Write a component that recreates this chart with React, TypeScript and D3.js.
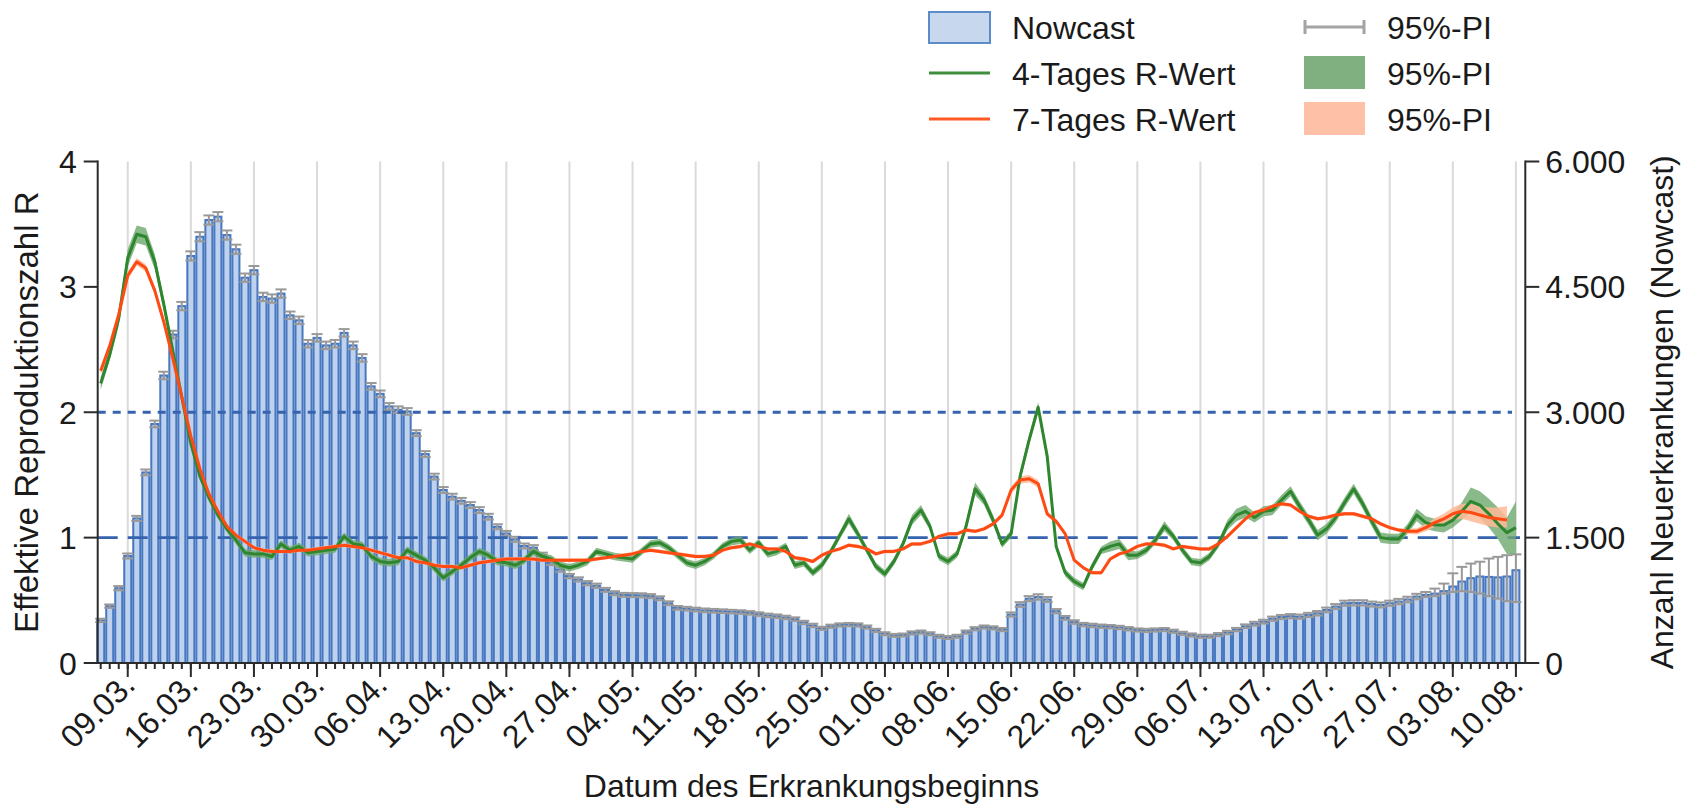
import React, { useEffect, useRef } from "react";
import * as d3 from "d3";

// first day shown (one bar per day)
const startDay = "2020-03-06";

// Nowcast: daily new cases with 95% prediction interval
const nowcast = [
  510, 680, 895, 1280, 1730, 2280, 2860, 3440, 3930, 4270,
  4870, 5100, 5300, 5340, 5120, 4950, 4610, 4700, 4380, 4360,
  4420, 4160, 4100, 3820, 3890, 3800, 3820, 3950, 3800, 3650,
  3310, 3220, 3070, 3030, 3010, 2750, 2500, 2230, 2070, 1990,
  1940, 1890, 1830, 1750, 1630, 1550, 1480, 1400, 1380, 1290,
  1200, 1120, 1040, 1000, 955, 925, 875, 835, 815, 812,
  810, 800, 775, 715, 660, 650, 640, 630, 625, 620,
  615, 610, 600, 585, 570, 560, 545, 525, 485, 450,
  415, 440, 455, 460, 455, 430, 390, 350, 330, 335,
  360, 370, 350, 320, 305, 320, 370, 410, 430, 420,
  400, 580, 700, 770, 790, 760, 620, 540, 490, 460,
  450, 440, 435, 425, 410, 395, 390, 395, 400, 380,
  355, 335, 320, 320, 340, 365, 400, 440, 470, 495,
  530, 550, 560, 555, 575, 595, 635, 675, 715, 720,
  720, 705, 695, 715, 735, 760, 795, 815, 830, 860,
  915, 975, 1015, 1035, 1030, 1025, 1035, 1110,
];
const nowcastLo = [
  490, 660, 870, 1250, 1700, 2245, 2820, 3395, 3885, 4220,
  4815, 5045, 5245, 5285, 5065, 4895, 4560, 4650, 4330, 4310,
  4370, 4115, 4055, 3775, 3845, 3755, 3775, 3905, 3755, 3605,
  3270, 3180, 3030, 2990, 2970, 2715, 2465, 2195, 2035, 1955,
  1905, 1855, 1795, 1715, 1600, 1520, 1450, 1370, 1350, 1260,
  1172, 1092, 1014, 975, 930, 900, 851, 811, 791, 788,
  786, 776, 752, 692, 638, 628, 618, 608, 603, 598,
  594, 589, 579, 564, 549, 539, 524, 504, 465, 430,
  396, 421, 436, 441, 436, 411, 371, 332, 312, 317,
  341, 351, 332, 302, 287, 302, 351, 391, 411, 401,
  381, 555, 672, 740, 758, 730, 595, 517, 469, 440,
  430, 420, 415, 405, 390, 376, 371, 376, 381, 361,
  336, 316, 302, 302, 321, 345, 380, 418, 447, 472,
  505, 525, 535, 530, 550, 568, 607, 645, 684, 689,
  689, 675, 665, 684, 703, 727, 762, 790, 800, 830,
  850, 860, 850, 830, 800, 770, 740, 730,
];
const nowcastHi = [
  530, 700, 920, 1310, 1760, 2315, 2900, 3485, 3975, 4320,
  4925, 5155, 5355, 5395, 5175, 5005, 4660, 4750, 4430, 4410,
  4470, 4205, 4145, 3865, 3935, 3845, 3865, 3995, 3845, 3695,
  3350, 3260, 3110, 3070, 3050, 2785, 2535, 2265, 2105, 2025,
  1975, 1925, 1865, 1785, 1660, 1580, 1510, 1430, 1410, 1320,
  1228, 1148, 1066, 1025, 980, 950, 899, 859, 839, 836,
  834, 824, 798, 738, 682, 672, 662, 652, 647, 642,
  636, 631, 621, 606, 591, 581, 566, 546, 505, 470,
  434, 459, 474, 479, 474, 449, 409, 368, 348, 353,
  379, 389, 368, 338, 323, 338, 389, 429, 449, 439,
  419, 605, 728, 800, 822, 790, 645, 563, 511, 480,
  470, 460, 455, 445, 430, 414, 409, 414, 419, 399,
  374, 354, 338, 338, 359, 385, 420, 462, 493, 518,
  555, 575, 585, 580, 600, 622, 663, 705, 746, 751,
  751, 735, 725, 746, 767, 793, 828, 850, 890, 950,
  1073, 1150, 1190, 1212, 1250, 1270, 1290, 1300,
];

// 4-Tages R-Wert with 95%-PI
const r4 = [
  2.23, 2.46, 2.75, 3.23, 3.42, 3.40, 3.20, 2.86, 2.49, 2.12,
  1.75, 1.49, 1.32, 1.18, 1.07, 0.98, 0.88, 0.87, 0.87, 0.85,
  0.95, 0.90, 0.93, 0.88, 0.89, 0.90, 0.91, 1.01, 0.95, 0.94,
  0.85, 0.81, 0.80, 0.81, 0.90, 0.86, 0.82, 0.76, 0.68, 0.73,
  0.78, 0.84, 0.89, 0.86, 0.81, 0.80, 0.78, 0.82, 0.89, 0.85,
  0.83, 0.78, 0.76, 0.78, 0.81, 0.89, 0.87, 0.85, 0.84, 0.83,
  0.89, 0.95, 0.96, 0.92, 0.86, 0.80, 0.78, 0.81, 0.86, 0.93,
  0.97, 0.98, 0.90, 0.96, 0.87, 0.89, 0.93, 0.78, 0.80, 0.72,
  0.78, 0.89, 1.02, 1.15, 1.03, 0.90, 0.77, 0.71, 0.81, 0.95,
  1.14, 1.22, 1.09, 0.85, 0.81, 0.87, 1.09, 1.39, 1.30, 1.14,
  0.95, 1.03, 1.49, 1.78, 2.04, 1.65, 0.93, 0.72, 0.65, 0.61,
  0.77, 0.90, 0.93, 0.95, 0.86, 0.86, 0.90, 0.98, 1.09, 1.01,
  0.90, 0.81, 0.80, 0.85, 0.95, 1.10, 1.18, 1.21, 1.16, 1.21,
  1.22, 1.30, 1.37, 1.25, 1.14, 1.02, 1.07, 1.16, 1.28, 1.39,
  1.27, 1.13, 1.00, 0.99, 0.99, 1.07, 1.18, 1.12, 1.10, 1.10,
  1.14, 1.21, 1.29, 1.26, 1.19, 1.11, 1.04, 1.08,
];
const r4Lo = [
  2.18, 2.41, 2.69, 3.16, 3.35, 3.33, 3.14, 2.81, 2.45, 2.09,
  1.72, 1.46, 1.29, 1.15, 1.04, 0.95, 0.85, 0.84, 0.84, 0.82,
  0.92, 0.87, 0.90, 0.85, 0.86, 0.87, 0.88, 0.98, 0.92, 0.91,
  0.82, 0.78, 0.77, 0.78, 0.87, 0.83, 0.79, 0.73, 0.65, 0.70,
  0.75, 0.81, 0.86, 0.83, 0.78, 0.77, 0.75, 0.79, 0.86, 0.82,
  0.80, 0.75, 0.73, 0.75, 0.78, 0.86, 0.84, 0.82, 0.81, 0.80,
  0.86, 0.92, 0.93, 0.89, 0.83, 0.77, 0.75, 0.78, 0.83, 0.90,
  0.94, 0.95, 0.87, 0.93, 0.84, 0.86, 0.90, 0.75, 0.77, 0.69,
  0.75, 0.86, 0.99, 1.11, 1.00, 0.87, 0.74, 0.68, 0.78, 0.92,
  1.10, 1.18, 1.06, 0.82, 0.78, 0.84, 1.05, 1.34, 1.26, 1.10,
  0.92, 1.00, 1.45, 1.74, 2.00, 1.61, 0.90, 0.69, 0.62, 0.58,
  0.74, 0.87, 0.89, 0.91, 0.82, 0.83, 0.87, 0.95, 1.05, 0.98,
  0.87, 0.78, 0.77, 0.82, 0.92, 1.06, 1.13, 1.16, 1.12, 1.17,
  1.18, 1.26, 1.33, 1.21, 1.10, 0.98, 1.03, 1.12, 1.24, 1.35,
  1.23, 1.09, 0.96, 0.95, 0.95, 1.03, 1.13, 1.07, 1.05, 1.04,
  1.08, 1.14, 1.20, 1.16, 1.08, 0.99, 0.87, 0.87,
];
const r4Hi = [
  2.28, 2.51, 2.81, 3.30, 3.49, 3.47, 3.26, 2.91, 2.53, 2.15,
  1.78, 1.52, 1.35, 1.21, 1.10, 1.01, 0.91, 0.90, 0.90, 0.88,
  0.98, 0.93, 0.96, 0.91, 0.92, 0.93, 0.94, 1.04, 0.98, 0.97,
  0.88, 0.84, 0.83, 0.84, 0.93, 0.89, 0.85, 0.79, 0.71, 0.76,
  0.81, 0.87, 0.92, 0.89, 0.84, 0.83, 0.81, 0.85, 0.92, 0.88,
  0.86, 0.81, 0.79, 0.81, 0.84, 0.92, 0.90, 0.88, 0.87, 0.86,
  0.92, 0.98, 0.99, 0.95, 0.89, 0.83, 0.81, 0.84, 0.89, 0.96,
  1.00, 1.01, 0.93, 0.99, 0.90, 0.92, 0.96, 0.81, 0.83, 0.75,
  0.81, 0.92, 1.05, 1.19, 1.06, 0.93, 0.80, 0.74, 0.84, 0.98,
  1.18, 1.26, 1.12, 0.88, 0.84, 0.90, 1.13, 1.44, 1.34, 1.18,
  0.98, 1.06, 1.53, 1.82, 2.08, 1.69, 0.96, 0.75, 0.68, 0.64,
  0.80, 0.93, 0.97, 0.99, 0.90, 0.89, 0.93, 1.01, 1.13, 1.04,
  0.93, 0.84, 0.83, 0.88, 0.98, 1.14, 1.23, 1.26, 1.20, 1.25,
  1.26, 1.34, 1.41, 1.29, 1.18, 1.06, 1.11, 1.20, 1.32, 1.43,
  1.31, 1.17, 1.04, 1.03, 1.03, 1.11, 1.23, 1.17, 1.15, 1.16,
  1.20, 1.28, 1.40, 1.37, 1.31, 1.24, 1.16, 1.29,
];

// 7-Tages R-Wert with 95%-PI (one day shorter)
const r7 = [
  2.33, 2.53, 2.78, 3.09, 3.20, 3.15, 2.97, 2.72, 2.43, 2.12,
  1.81, 1.55, 1.35, 1.21, 1.09, 1.02, 0.97, 0.92, 0.90, 0.89,
  0.89, 0.89, 0.90, 0.90, 0.91, 0.92, 0.93, 0.94, 0.93, 0.92,
  0.90, 0.88, 0.86, 0.84, 0.84, 0.81, 0.80, 0.78, 0.77, 0.77,
  0.76, 0.78, 0.80, 0.81, 0.82, 0.83, 0.83, 0.83, 0.83, 0.82,
  0.82, 0.82, 0.82, 0.82, 0.82, 0.83, 0.84, 0.85, 0.86, 0.87,
  0.89, 0.90, 0.89, 0.88, 0.87, 0.86, 0.85, 0.85, 0.86, 0.90,
  0.92, 0.93, 0.95, 0.93, 0.91, 0.91, 0.89, 0.84, 0.83, 0.81,
  0.86, 0.89, 0.91, 0.94, 0.93, 0.91, 0.87, 0.89, 0.89, 0.91,
  0.95, 0.95, 0.97, 1.01, 1.03, 1.03, 1.06, 1.05, 1.07, 1.11,
  1.18, 1.38, 1.46, 1.47, 1.43, 1.19, 1.13, 1.03, 0.82, 0.76,
  0.72, 0.72, 0.83, 0.87, 0.89, 0.93, 0.95, 0.95, 0.94, 0.91,
  0.93, 0.92, 0.91, 0.91, 0.95, 1.01, 1.08, 1.15, 1.20, 1.22,
  1.25, 1.27, 1.26, 1.21, 1.17, 1.15, 1.16, 1.18, 1.19, 1.19,
  1.17, 1.15, 1.11, 1.08, 1.06, 1.05, 1.05, 1.08, 1.12, 1.15,
  1.19, 1.21, 1.20, 1.18, 1.16, 1.15, 1.14,
];
const r7Lo = [
  2.30, 2.50, 2.75, 3.06, 3.17, 3.12, 2.94, 2.69, 2.40, 2.10,
  1.79, 1.53, 1.33, 1.19, 1.075, 1.005, 0.955, 0.905, 0.885, 0.875,
  0.875, 0.875, 0.885, 0.885, 0.895, 0.905, 0.915, 0.925, 0.915, 0.905,
  0.885, 0.865, 0.845, 0.825, 0.825, 0.795, 0.785, 0.765, 0.755, 0.755,
  0.745, 0.765, 0.785, 0.795, 0.805, 0.815, 0.815, 0.815, 0.815, 0.805,
  0.805, 0.805, 0.805, 0.805, 0.805, 0.815, 0.825, 0.835, 0.845, 0.855,
  0.875, 0.885, 0.875, 0.865, 0.855, 0.845, 0.835, 0.835, 0.845, 0.885,
  0.905, 0.915, 0.935, 0.915, 0.895, 0.895, 0.875, 0.825, 0.815, 0.795,
  0.845, 0.875, 0.895, 0.925, 0.915, 0.895, 0.855, 0.875, 0.875, 0.895,
  0.935, 0.935, 0.955, 0.995, 1.015, 1.015, 1.045, 1.035, 1.055, 1.095,
  1.16, 1.35, 1.43, 1.44, 1.40, 1.17, 1.11, 1.015, 0.805, 0.745,
  0.705, 0.705, 0.815, 0.855, 0.875, 0.915, 0.935, 0.935, 0.925, 0.895,
  0.915, 0.905, 0.895, 0.895, 0.935, 0.995, 1.065, 1.135, 1.185, 1.205,
  1.235, 1.255, 1.245, 1.195, 1.155, 1.135, 1.145, 1.165, 1.175, 1.175,
  1.155, 1.135, 1.095, 1.065, 1.045, 1.03, 1.025, 1.05, 1.085, 1.11,
  1.14, 1.15, 1.13, 1.11, 1.09, 1.08, 1.08,
];
const r7Hi = [
  2.36, 2.56, 2.81, 3.12, 3.23, 3.18, 3.00, 2.75, 2.46, 2.14,
  1.83, 1.57, 1.37, 1.23, 1.105, 1.035, 0.985, 0.935, 0.915, 0.905,
  0.905, 0.905, 0.915, 0.915, 0.925, 0.935, 0.945, 0.955, 0.945, 0.935,
  0.915, 0.895, 0.875, 0.855, 0.855, 0.825, 0.815, 0.795, 0.785, 0.785,
  0.775, 0.795, 0.815, 0.825, 0.835, 0.845, 0.845, 0.845, 0.845, 0.835,
  0.835, 0.835, 0.835, 0.835, 0.835, 0.845, 0.855, 0.865, 0.875, 0.885,
  0.905, 0.915, 0.905, 0.895, 0.885, 0.875, 0.865, 0.865, 0.875, 0.915,
  0.935, 0.945, 0.965, 0.945, 0.925, 0.925, 0.905, 0.855, 0.845, 0.825,
  0.875, 0.905, 0.925, 0.955, 0.945, 0.925, 0.885, 0.905, 0.905, 0.925,
  0.965, 0.965, 0.985, 1.025, 1.045, 1.045, 1.075, 1.065, 1.085, 1.125,
  1.20, 1.41, 1.49, 1.50, 1.46, 1.21, 1.15, 1.045, 0.835, 0.775,
  0.735, 0.735, 0.845, 0.885, 0.905, 0.945, 0.965, 0.965, 0.955, 0.925,
  0.945, 0.935, 0.925, 0.925, 0.965, 1.025, 1.095, 1.165, 1.215, 1.235,
  1.265, 1.285, 1.275, 1.225, 1.185, 1.165, 1.175, 1.195, 1.205, 1.205,
  1.185, 1.165, 1.125, 1.095, 1.075, 1.07, 1.075, 1.11, 1.155, 1.19,
  1.24, 1.27, 1.27, 1.25, 1.24, 1.24, 1.25,
];

const rTicks = [0, 1, 2, 3, 4];
const caseTicks = [0, 1500, 3000, 4500, 6000];
const legendLeft = ["Nowcast", "4-Tages R-Wert", "7-Tages R-Wert"];
const piLabel = "95%-PI";

const FONT = "'Liberation Sans', Arial, Helvetica, sans-serif";
const FS = 32;

const App: React.FC = () => {
  const svgRef = useRef<SVGSVGElement>(null);
  const width = 1690;
  const height = 808;

  useEffect(() => {
    if (!svgRef.current) return;
    const svg = d3.select(svgRef.current);
    svg.selectAll("*").remove();

    const start = d3.utcParse("%Y-%m-%d")(startDay) as Date;
    const days = nowcast.map((_, i) => d3.utcDay.offset(start, i));
    const last = days[days.length - 1];

    const left = 97.7;
    const right = 1525.3;
    const bottom = 663;
    const top = 161.5;

    const x = d3
      .scaleUtc()
      .domain([d3.utcHour.offset(start, -8), d3.utcHour.offset(last, 25)])
      .range([left, right]);
    const yR = d3.scaleLinear().domain([0, 4]).range([bottom, top]);
    const yN = d3.scaleLinear().domain([0, 6000]).range([bottom, top]);
    const dayW = x(d3.utcDay.offset(start, 1)) - x(start);

    const de = d3.formatLocale({
      decimal: ",",
      thousands: ".",
      grouping: [3],
      currency: ["", " €"],
    });
    const fmtCases = de.format(",d");
    const fmtDate = d3.utcFormat("%d.%m.");

    const weeks = d3.utcMonday.range(start, d3.utcDay.offset(last, 1));

    // vertical week gridlines
    svg
      .append("g")
      .selectAll("line")
      .data(weeks)
      .join("line")
      .attr("x1", (d) => x(d))
      .attr("x2", (d) => x(d))
      .attr("y1", top)
      .attr("y2", bottom)
      .attr("stroke", "#dadada")
      .attr("stroke-width", 2);

    // nowcast bars
    svg
      .append("g")
      .selectAll("rect")
      .data(nowcast)
      .join("rect")
      .attr("x", (d, i) => x(days[i]) - dayW / 2 + 1)
      .attr("y", (d) => yN(d))
      .attr("width", dayW - 2)
      .attr("height", (d) => bottom - yN(d))
      .attr("fill", "#bed2ee")
      .attr("stroke", "#4677c0")
      .attr("stroke-width", 2);

    // nowcast prediction intervals
    const eb = svg.append("g").attr("stroke", "#999999").attr("stroke-width", 2);
    nowcast.forEach((d, i) => {
      const cx = x(days[i]);
      const lo = yN(nowcastLo[i]);
      const hi = yN(nowcastHi[i]);
      eb.append("line").attr("x1", cx).attr("x2", cx).attr("y1", lo).attr("y2", hi);
      eb.append("line").attr("x1", cx - 5.5).attr("x2", cx + 5.5).attr("y1", lo).attr("y2", lo);
      eb.append("line").attr("x1", cx - 5.5).attr("x2", cx + 5.5).attr("y1", hi).attr("y2", hi);
    });

    // reference lines R = 1 and R = 2
    svg
      .append("line")
      .attr("x1", left)
      .attr("x2", 1512)
      .attr("y1", yR(2))
      .attr("y2", yR(2))
      .attr("stroke", "#3563ae")
      .attr("stroke-width", 2.8)
      .attr("stroke-dasharray", "8,7");
    svg
      .append("line")
      .attr("x1", left)
      .attr("x2", 1520)
      .attr("y1", yR(1))
      .attr("y2", yR(1))
      .attr("stroke", "#3563ae")
      .attr("stroke-width", 2.8)
      .attr("stroke-dasharray", "20,10");

    // R bands and lines
    const band = (lo: number[], hi: number[]) =>
      d3
        .area<number>()
        .x((_, i) => x(days[i]))
        .y0((_, i) => yR(lo[i]))
        .y1((_, i) => yR(hi[i]))
        .curve(d3.curveLinear)(lo);
    const line = (vals: number[]) =>
      d3
        .line<number>()
        .x((_, i) => x(days[i]))
        .y((d) => yR(d))(vals);

    svg.append("path").attr("d", band(r4Lo, r4Hi)).attr("fill", "#6da86d").attr("opacity", 0.8);
    svg.append("path").attr("d", band(r7Lo, r7Hi)).attr("fill", "#ffb896").attr("opacity", 0.85);
    svg
      .append("path")
      .attr("d", line(r4))
      .attr("fill", "none")
      .attr("stroke", "#2e862e")
      .attr("stroke-width", 3)
      .attr("stroke-linejoin", "round");
    svg
      .append("path")
      .attr("d", line(r7))
      .attr("fill", "none")
      .attr("stroke", "#ff4a14")
      .attr("stroke-width", 3)
      .attr("stroke-linejoin", "round");

    // axes
    const axisColor = "#2b2b2b";
    const ax = svg.append("g").attr("stroke", axisColor).attr("stroke-width", 2);
    ax.append("line").attr("x1", left).attr("x2", left).attr("y1", top - 1).attr("y2", bottom + 1);
    ax.append("line").attr("x1", right).attr("x2", right).attr("y1", top - 1).attr("y2", bottom + 1);
    ax.append("line").attr("x1", left).attr("x2", right).attr("y1", bottom).attr("y2", bottom);

    // left ticks
    ax.selectAll(".lt")
      .data(rTicks)
      .join("line")
      .attr("x1", left - 14)
      .attr("x2", left)
      .attr("y1", (d) => yR(d))
      .attr("y2", (d) => yR(d));
    // right ticks
    ax.selectAll(".rt")
      .data(caseTicks)
      .join("line")
      .attr("x1", right)
      .attr("x2", right + 14)
      .attr("y1", (d) => yN(d))
      .attr("y2", (d) => yN(d));
    // daily minor ticks
    ax.selectAll(".mt")
      .data(days)
      .join("line")
      .attr("x1", (d) => x(d))
      .attr("x2", (d) => x(d))
      .attr("y1", bottom)
      .attr("y2", bottom + 6);
    // weekly major ticks
    ax.selectAll(".wt")
      .data(weeks)
      .join("line")
      .attr("x1", (d) => x(d))
      .attr("x2", (d) => x(d))
      .attr("y1", bottom)
      .attr("y2", bottom + 14);

    const txt = svg
      .append("g")
      .attr("font-family", FONT)
      .attr("font-size", FS)
      .attr("fill", "#1a1a1a");

    txt
      .selectAll(".ly")
      .data(rTicks)
      .join("text")
      .attr("x", left - 21)
      .attr("y", (d) => yR(d))
      .attr("dy", "0.36em")
      .attr("text-anchor", "end")
      .text((d) => String(d));
    txt
      .selectAll(".ry")
      .data(caseTicks)
      .join("text")
      .attr("x", right + 20)
      .attr("y", (d) => yN(d))
      .attr("dy", "0.36em")
      .attr("text-anchor", "start")
      .text((d) => fmtCases(d));

    txt
      .selectAll(".xl")
      .data(weeks)
      .join("text")
      .attr("transform", (d) => `translate(${x(d) + 9},${bottom + 24}) rotate(-45)`)
      .attr("text-anchor", "end")
      .text((d) => fmtDate(d));

    txt
      .append("text")
      .attr("x", (left + right) / 2)
      .attr("y", 797)
      .attr("text-anchor", "middle")
      .text("Datum des Erkrankungsbeginns");
    txt
      .append("text")
      .attr("transform", `translate(38,${(top + bottom) / 2}) rotate(-90)`)
      .attr("text-anchor", "middle")
      .attr("font-size", 33)
      .text("Effektive Reproduktionszahl R");
    txt
      .append("text")
      .attr("transform", `translate(1673,${(top + bottom) / 2}) rotate(-90)`)
      .attr("text-anchor", "middle")
      .text("Anzahl Neuerkrankungen (Nowcast)");

    // legend
    const lg = svg.append("g");
    const col1 = 929;
    const col2 = 1304;
    const sw = 61;
    const rowY = [27, 73, 119];
    lg.append("rect")
      .attr("x", col1)
      .attr("y", rowY[0] - 15)
      .attr("width", sw)
      .attr("height", 31)
      .attr("fill", "#c7d7ee")
      .attr("stroke", "#5b8bc9")
      .attr("stroke-width", 2);
    lg.append("line")
      .attr("x1", col1)
      .attr("x2", col1 + sw)
      .attr("y1", rowY[1])
      .attr("y2", rowY[1])
      .attr("stroke", "#3f8f3f")
      .attr("stroke-width", 3);
    lg.append("line")
      .attr("x1", col1)
      .attr("x2", col1 + sw)
      .attr("y1", rowY[2])
      .attr("y2", rowY[2])
      .attr("stroke", "#ff5a26")
      .attr("stroke-width", 3);
    lg.selectAll(".l1")
      .data(legendLeft)
      .join("text")
      .attr("x", col1 + 83)
      .attr("y", (d, i) => rowY[i])
      .attr("dy", "0.36em")
      .attr("font-family", FONT)
      .attr("font-size", FS)
      .attr("fill", "#1a1a1a")
      .text((d) => d);

    const pi = lg.append("g").attr("stroke", "#a3a3a3").attr("stroke-width", 3);
    pi.append("line").attr("x1", col2).attr("x2", col2 + sw).attr("y1", rowY[0]).attr("y2", rowY[0]);
    pi.append("line").attr("x1", col2 + 1).attr("x2", col2 + 1).attr("y1", rowY[0] - 7).attr("y2", rowY[0] + 7);
    pi.append("line").attr("x1", col2 + sw - 1).attr("x2", col2 + sw - 1).attr("y1", rowY[0] - 7).attr("y2", rowY[0] + 7);
    lg.append("rect")
      .attr("x", col2)
      .attr("y", rowY[1] - 17)
      .attr("width", sw)
      .attr("height", 33)
      .attr("fill", "#80b080");
    lg.append("rect")
      .attr("x", col2)
      .attr("y", rowY[2] - 17)
      .attr("width", sw)
      .attr("height", 33)
      .attr("fill", "#ffc0a8");
    lg.selectAll(".l2")
      .data(rowY)
      .join("text")
      .attr("x", col2 + 83)
      .attr("y", (d) => d)
      .attr("dy", "0.36em")
      .attr("font-family", FONT)
      .attr("font-size", FS)
      .attr("fill", "#1a1a1a")
      .text(piLabel);
  }, []);

  return (
    <svg
      ref={svgRef}
      width={width}
      height={height}
      viewBox={`0 0 ${width} ${height}`}
      style={{ position: "absolute", left: 0, top: 0, background: "#fff" }}
    />
  );
};

export default App;
